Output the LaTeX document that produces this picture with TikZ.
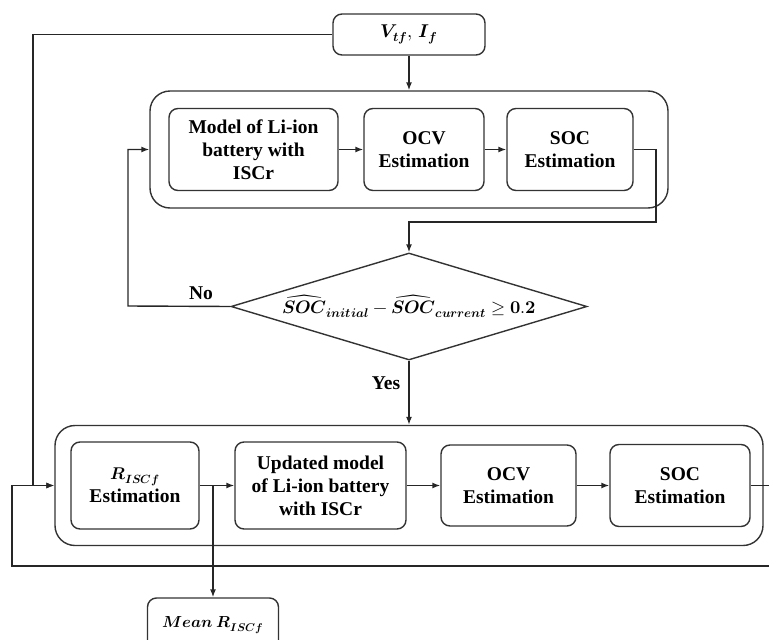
\documentclass[tikz,border=0pt]{standalone}
\usepackage{fontspec}
\usepackage{unicode-math}
\setmainfont{Liberation Serif}
\setmathfont{Latin Modern Math}
\usetikzlibrary{shapes.geometric,arrows.meta}
\newcommand{\mfs}[1]{{\fontsize{#1}{23}\selectfont}}
\begin{document}
\begin{tikzpicture}[x=1pt,y=-1pt,
  line width=1.4pt,
  txt/.style={font=\fontsize{19.5}{23}\selectfont\bfseries},
  box/.style={draw=black!80, rounded corners=9pt, align=center, inner sep=0pt, txt},
  outer/.style={draw=black!80, rounded corners=20pt, inner sep=0pt},
  arr/.style={draw=black!85, -{Latex[length=8pt,width=6pt]}}]
\useasboundingbox (0,0) rectangle (769,640);

\node[box, minimum width=152, minimum height=41] (in) at (409,34.5) {{\fontsize{18.5}{23}\selectfont$\symbfit{V_{tf}},\, \symbfit{I_f}$}};
\node[outer, minimum width=518, minimum height=117] (up) at (409,149.5) {};
\node[box, minimum width=169, minimum height=82] (m1) at (253.5,149.5) {Model of Li-ion\\battery with\\ISCr};
\node[box, minimum width=120, minimum height=82] (o1) at (424,149.5) {OCV\\Estimation};
\node[box, minimum width=126, minimum height=82] (s1) at (570,149.5) {SOC\\Estimation};

\node[diamond, draw=black!80, aspect=3.3, inner sep=0pt, minimum width=356, minimum height=107,
  font=\fontsize{18}{23}\selectfont\bfseries] (d) at (409,306.5)
  {$\widehat{\symbfit{SOC}}_{\symbfit{initial}} - \widehat{\symbfit{SOC}}_{\symbfit{current}} \geq \symbf{0.2}$};

\node[outer, minimum width=708, minimum height=120] (lo) at (409,485.5) {};
\node[box, minimum width=128, minimum height=87] (r) at (135,485.5) {{\fontsize{17}{23}\selectfont$\symbfit{R_{ISCf}}$}\\Estimation};
\node[box, minimum width=171, minimum height=87] (u) at (320.5,485.5) {Updated model\\of Li-ion battery\\with ISCr};
\node[box, minimum width=135, minimum height=81] (o2) at (508.5,485.5) {OCV\\Estimation};
\node[box, minimum width=140, minimum height=82] (s2) at (680,485.5) {SOC\\Estimation};
\node[box, minimum width=131, minimum height=54] (mean) at (213,625) {\raisebox{3pt}{\fontsize{16}{23}\selectfont$\symbfit{Mean}\ \symbfit{R_{ISCf}}$}};

\node[txt] (no) at (201,293) {No};
\node[txt] (yes) at (386,383) {Yes};

\coordinate (c1) at (656,222);
\coordinate (nx) at (128,306);
\coordinate (lx) at (33,34.5);
\coordinate (rx) at (770,566);
\coordinate (fx) at (12,566);

\draw[arr] (in.south) -- (up.north);
\draw[arr] (m1) -- (o1);
\draw[arr] (o1) -- (s1);
\draw[arr] (s1.east) -- (s1.east -| c1) -- (c1) -- (c1 -| d.north) -- (d.north);
\draw[arr] (d.west) -- (nx) -- (nx |- up.west) -- (up.west);
\draw[arr] (d.south) -- (lo.north);
\draw[arr] (in.west) -- (lx) -- (lx |- lo.west) -- (lo.west);
\draw[arr] (r) -- (u);
\draw[arr] (u) -- (o2);
\draw[arr] (o2) -- (s2);
\draw[arr] (s2.east) -- (s2.east -| rx) -- (rx) -- (fx) -- (fx |- lo.west) -- (lo.west);
\draw[arr] (r.east -| mean.north) -- (mean.north);
\end{tikzpicture}
\end{document}
